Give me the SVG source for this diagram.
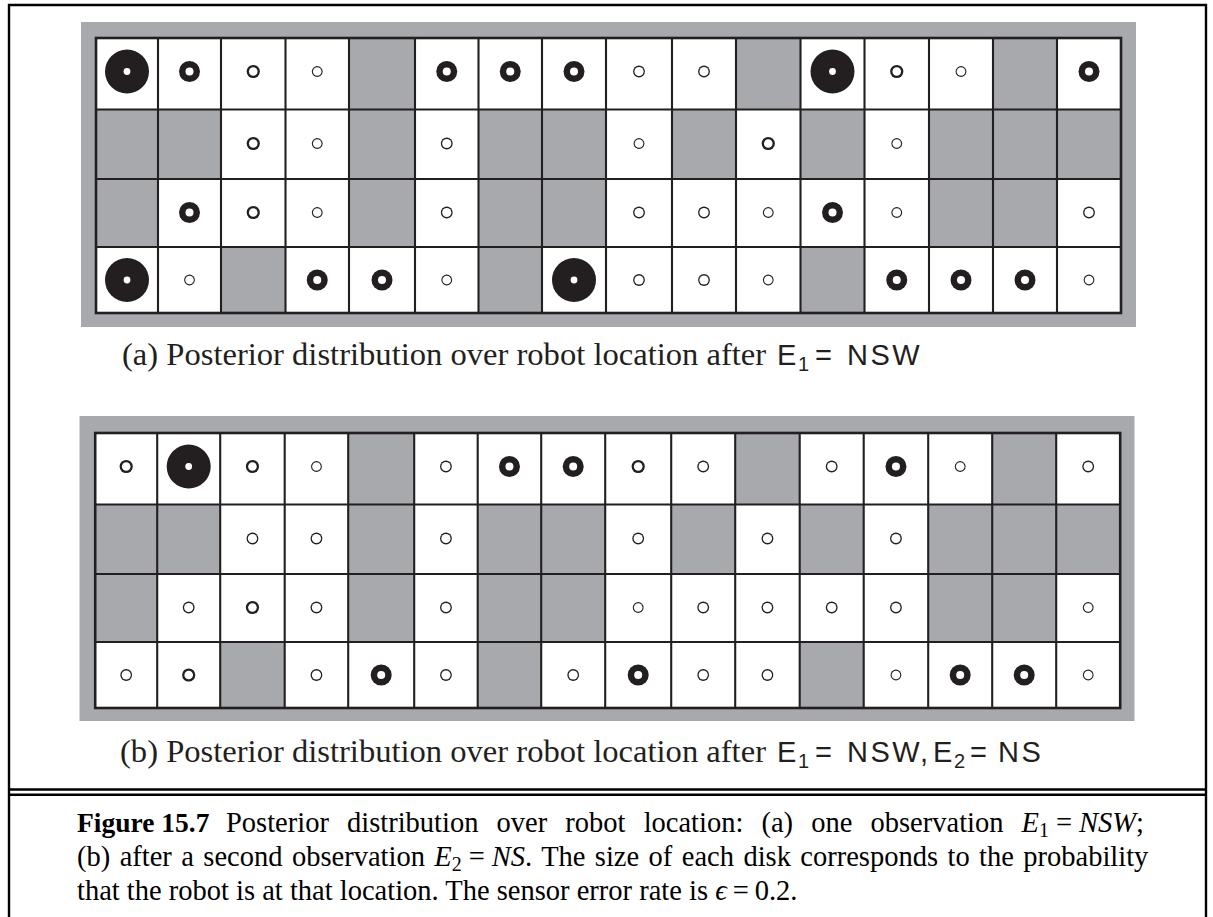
<svg xmlns="http://www.w3.org/2000/svg" width="1213" height="917" viewBox="0 0 1213 917">
<style>
.panel{fill:#a7a9ac}
.wall{fill:#a7a9ac}
.bg{fill:#ffffff}
.gl{fill:none;stroke:#231f20;stroke-width:2.1}
.go{fill:none;stroke:#231f20;stroke-width:2.6}
.k{fill:#231f20}
.w{fill:#ffffff}
.frame{fill:none;stroke:#000;stroke-width:2.4}
.sub{font-family:"Liberation Serif","Times New Roman",serif;font-size:32.6px;fill:#231f20}
.ss{font-family:"Liberation Sans",Arial,sans-serif;font-size:29px;fill:#231f20}
.sb{font-size:20px}
.cap{font-family:"Liberation Serif","Times New Roman",serif;font-size:28.5px;fill:#000}
.lbl{font-size:27.5px;font-weight:bold}
.it{font-style:italic}
</style>
<defs>
<g id="xl"><circle r="22" class="k"/><circle r="3.4" class="w"/></g>
<g id="b"><circle r="10.5" class="k"/><circle r="4" class="w"/></g>
<g id="m"><circle r="6.6" class="k"/><circle r="4.3" class="w"/></g>
<g id="s"><circle r="5.9" class="k"/><circle r="4.6" class="w"/></g>
<g id="xs"><circle r="5.4" class="k"/><circle r="4.3" class="w"/></g>
<g id="maze">
<rect class="bg" x="96" y="38" width="1025" height="275"/>
<rect class="wall" x="349" y="38" width="66" height="71.5"/>
<rect class="wall" x="736" y="38" width="64.5" height="71.5"/>
<rect class="wall" x="993" y="38" width="64" height="71.5"/>
<rect class="wall" x="96" y="109.5" width="125" height="69.5"/>
<rect class="wall" x="349" y="109.5" width="66" height="69.5"/>
<rect class="wall" x="478.5" y="109.5" width="127.5" height="69.5"/>
<rect class="wall" x="672" y="109.5" width="64" height="69.5"/>
<rect class="wall" x="800.5" y="109.5" width="64" height="69.5"/>
<rect class="wall" x="929" y="109.5" width="192" height="69.5"/>
<rect class="wall" x="96" y="179" width="62" height="68"/>
<rect class="wall" x="349" y="179" width="66" height="68"/>
<rect class="wall" x="478.5" y="179" width="127.5" height="68"/>
<rect class="wall" x="929" y="179" width="128" height="68"/>
<rect class="wall" x="221" y="247" width="64.5" height="66"/>
<rect class="wall" x="478.5" y="247" width="63.5" height="66"/>
<rect class="wall" x="800.5" y="247" width="64" height="66"/>
<path class="gl" d="M158 38V313M221 38V313M285.5 38V313M349 38V313M415 38V313M478.5 38V313M542 38V313M606 38V313M672 38V313M736 38V313M800.5 38V313M864.5 38V313M929 38V313M993 38V313M1057 38V313M96 109.5H1121M96 179H1121M96 247H1121"/>
<rect class="go" x="96" y="38" width="1025" height="275"/>
</g>
</defs>

<g id="frame">
<path class="frame" d="M9 917V5H1206V917"/>
<path class="frame" d="M9 789.5H1206M9 794.7H1206" stroke-width="2.3"/>
</g>

<g id="panel-a">
<rect class="panel" x="81" y="22" width="1055" height="305"/>
<use href="#maze"/>
<g id="disks-a">
<use href="#xl" x="127" y="71.5"/><use href="#b" x="189.5" y="71.5"/><use href="#m" x="253.25" y="71.5"/><use href="#xs" x="317.25" y="71.5"/><use href="#b" x="446.75" y="71.5"/><use href="#b" x="510.25" y="71.5"/><use href="#b" x="574" y="71.5"/><use href="#s" x="639" y="71.5"/><use href="#s" x="704" y="71.5"/><use href="#xl" x="832.5" y="71.5"/><use href="#m" x="896.75" y="71.5"/><use href="#xs" x="961" y="71.5"/><use href="#b" x="1089" y="71.5"/>
<use href="#m" x="253.25" y="143.5"/><use href="#xs" x="317.25" y="143.5"/><use href="#s" x="446.75" y="143.5"/><use href="#xs" x="639" y="143.5"/><use href="#m" x="768.25" y="143.5"/><use href="#xs" x="896.75" y="143.5"/>
<use href="#b" x="189.5" y="212.5"/><use href="#m" x="253.25" y="212.5"/><use href="#xs" x="317.25" y="212.5"/><use href="#s" x="446.75" y="212.5"/><use href="#s" x="639" y="212.5"/><use href="#s" x="704" y="212.5"/><use href="#xs" x="768.25" y="212.5"/><use href="#b" x="832.5" y="212.5"/><use href="#xs" x="896.75" y="212.5"/><use href="#s" x="1089" y="212.5"/>
<use href="#xl" x="127" y="280"/><use href="#xs" x="189.5" y="280"/><use href="#b" x="317.25" y="280"/><use href="#b" x="382" y="280"/><use href="#xs" x="446.75" y="280"/><use href="#xl" x="574" y="280"/><use href="#s" x="639" y="280"/><use href="#s" x="704" y="280"/><use href="#xs" x="768.25" y="280"/><use href="#b" x="896.75" y="280"/><use href="#b" x="961" y="280"/><use href="#b" x="1025" y="280"/><use href="#xs" x="1089" y="280"/>
</g>
<text class="sub" x="122" y="365">(a) Posterior distribution over robot location after</text>
<text class="ss" y="365"><tspan x="777">E</tspan><tspan class="sb" x="798" dy="6">1</tspan><tspan x="815" dy="-6">=</tspan><tspan x="847" letter-spacing="2.5">NSW</tspan></text>
</g>

<g id="panel-b">
<rect class="panel" x="79.5" y="416" width="1055" height="305"/>
<g transform="translate(-0.8,395)">
<use href="#maze"/>
<g id="disks-b">
<use href="#m" x="127" y="71.5"/><use href="#xl" x="189.5" y="71.5"/><use href="#m" x="253.25" y="71.5"/><use href="#xs" x="317.25" y="71.5"/><use href="#s" x="446.75" y="71.5"/><use href="#b" x="510.25" y="71.5"/><use href="#b" x="574" y="71.5"/><use href="#m" x="639" y="71.5"/><use href="#s" x="704" y="71.5"/><use href="#s" x="832.5" y="71.5"/><use href="#b" x="896.75" y="71.5"/><use href="#xs" x="961" y="71.5"/><use href="#s" x="1089" y="71.5"/>
<use href="#s" x="253.25" y="143.5"/><use href="#s" x="317.25" y="143.5"/><use href="#s" x="446.75" y="143.5"/><use href="#s" x="639" y="143.5"/><use href="#s" x="768.25" y="143.5"/><use href="#s" x="896.75" y="143.5"/>
<use href="#s" x="189.5" y="212.5"/><use href="#m" x="253.25" y="212.5"/><use href="#s" x="317.25" y="212.5"/><use href="#s" x="446.75" y="212.5"/><use href="#xs" x="639" y="212.5"/><use href="#s" x="704" y="212.5"/><use href="#s" x="768.25" y="212.5"/><use href="#s" x="832.5" y="212.5"/><use href="#s" x="896.75" y="212.5"/><use href="#xs" x="1089" y="212.5"/>
<use href="#s" x="127" y="280"/><use href="#m" x="189.5" y="280"/><use href="#s" x="317.25" y="280"/><use href="#b" x="382" y="280"/><use href="#s" x="446.75" y="280"/><use href="#s" x="574" y="280"/><use href="#b" x="639" y="280"/><use href="#s" x="704" y="280"/><use href="#s" x="768.25" y="280"/><use href="#xs" x="896.75" y="280"/><use href="#b" x="961" y="280"/><use href="#b" x="1025" y="280"/><use href="#xs" x="1089" y="280"/>
</g>
</g>
<text class="sub" x="120" y="762">(b) Posterior distribution over robot location after</text>
<text class="ss" y="762"><tspan x="777">E</tspan><tspan class="sb" x="798" dy="6">1</tspan><tspan x="815" dy="-6">=</tspan><tspan x="847" letter-spacing="2.5">NSW</tspan><tspan x="920">,</tspan><tspan x="933">E</tspan><tspan class="sb" x="954" dy="6">2</tspan><tspan x="970" dy="-6">=</tspan><tspan x="998" letter-spacing="2.5">NS</tspan></text>
</g>

<g id="caption">
<text class="cap lbl" x="77" y="832">Figure 15.7</text>
<text class="cap" x="226" y="832" word-spacing="11">Posterior distribution over robot location: (a) one observation <tspan class="it">E</tspan><tspan font-size="20" dy="5">1</tspan><tspan dx="7" dy="-5">=</tspan><tspan class="it" dx="7">NSW</tspan>;</text>
<text class="cap" x="77" y="866" word-spacing="2.3">(b) after a second observation <tspan class="it">E</tspan><tspan font-size="20" dy="5">2</tspan><tspan dx="7" dy="-5">=</tspan><tspan class="it" dx="7">NS</tspan>. The size of each disk corresponds to the probability</text>
<text class="cap" x="77" y="900">that the robot is at that location. The sensor error rate is <tspan class="it">ϵ</tspan><tspan dx="6">=</tspan><tspan dx="6">0.2</tspan>.</text>
</g>
</svg>
